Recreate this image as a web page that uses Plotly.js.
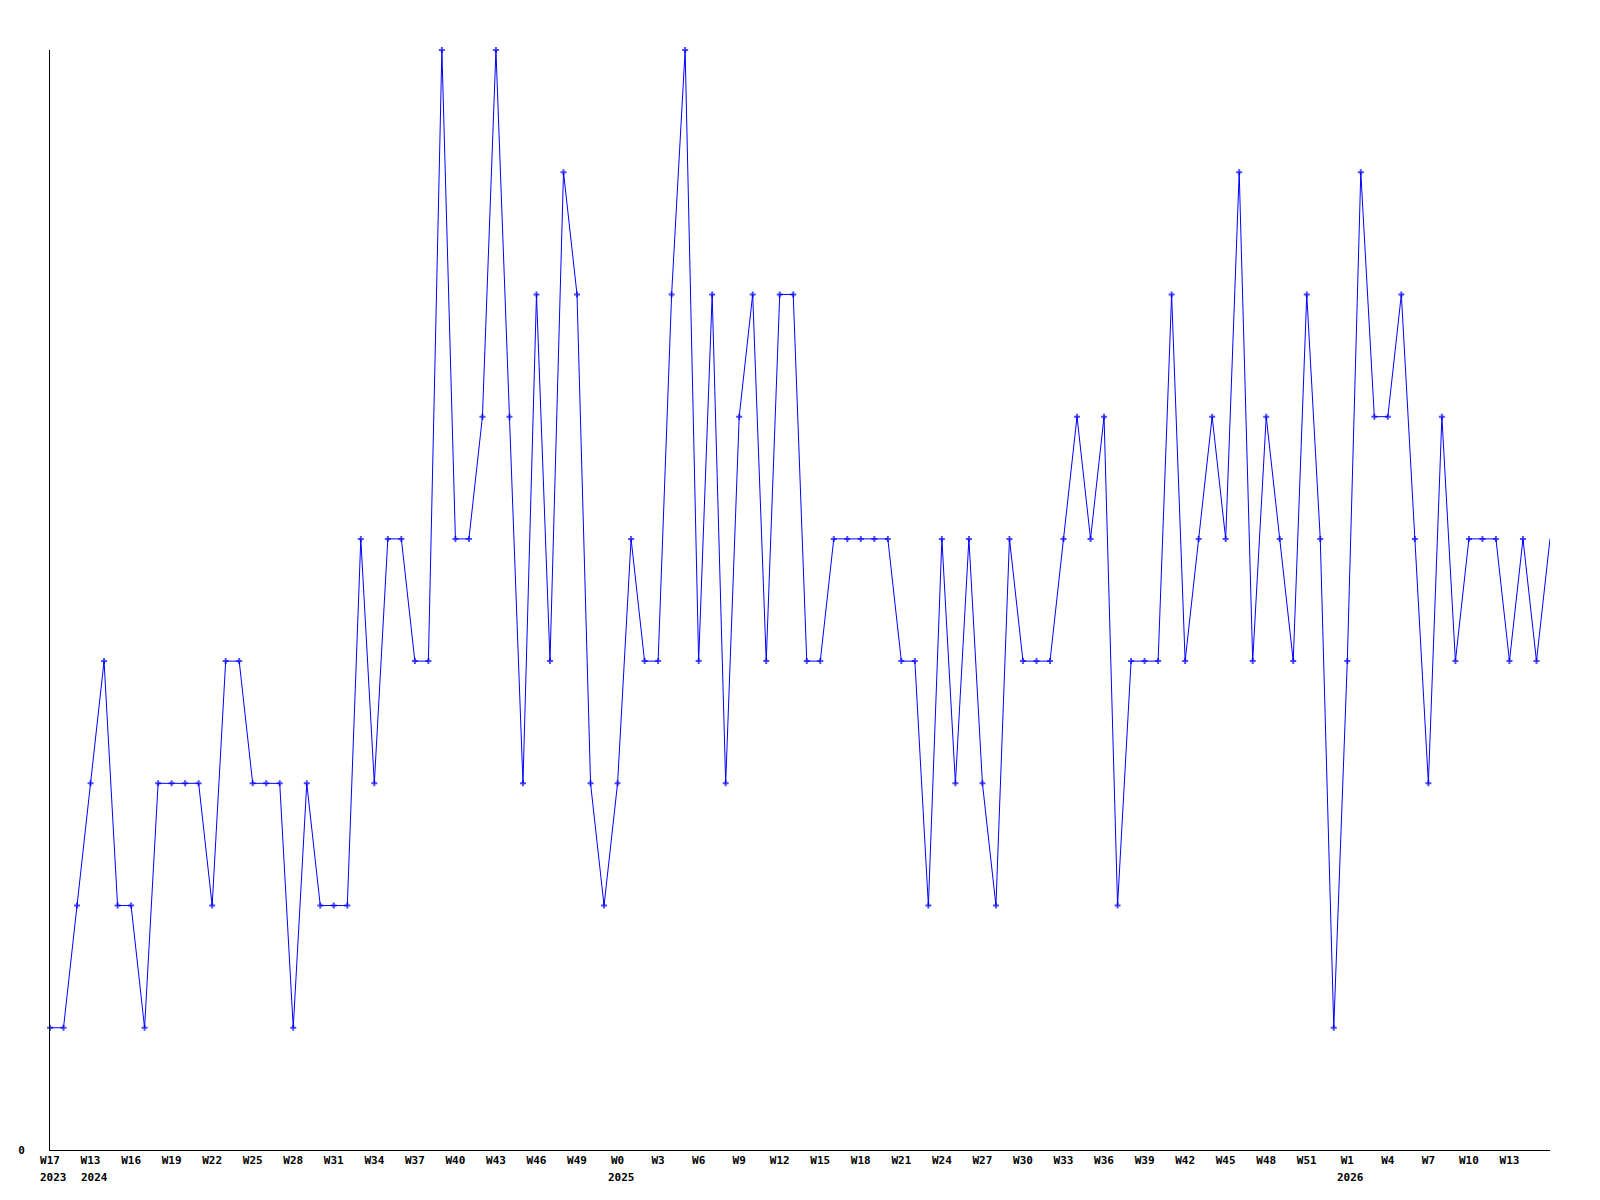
<!DOCTYPE html>
<html>
<head>
<meta charset="utf-8">
<script src="https://cdn.plot.ly/plotly-3.0.1.min.js"></script>
<style>
  html, body { margin: 0; padding: 0; background: #ffffff; }
  #chart { width: 1600px; height: 1200px; }
</style>
</head>
<body>
<div id="chart"></div>
<script>
// Weekly series values (one per week, 112 weeks)
const values = [
  1,1,2,3,4,2,2,1,3,3,3,3,2,4,4,3,3,3,1,3,2,2,2,5,3,5,5,4,4,9,
  5,5,6,9,6,3,7,4,8,7,3,2,3,5,4,4,7,9,4,7,3,6,7,4,7,7,4,4,5,5,
  5,5,5,4,4,2,5,3,5,3,2,5,4,4,4,5,6,5,6,2,4,4,4,7,4,5,6,5,8,4,
  6,5,4,7,5,1,4,8,6,6,7,5,3,6,4,5,5,5,4,5,4,5
];

// Week tick labels (every third week)
const tickIdx = [0,3,6,9,12,15,18,21,24,27,30,33,36,39,42,45,48,51,54,57,60,63,66,69,72,75,78,81,84,87,90,93,96,99,102,105,108];
const weekLabels = ["W17","W13","W16","W19","W22","W25","W28","W31","W34","W37","W40","W43","W46","W49",
  "W0","W3","W6","W9","W12","W15","W18","W21","W24","W27","W30","W33","W36","W39","W42","W45","W48","W51",
  "W1","W4","W7","W10","W13"];

// Year labels under the week labels
const yearIdx = [0, 3, 42, 96];
const yearLabels = ["2023", "2024", "2025", "2026"];

const xs = values.map((v, i) => i);
const markerSizes = values.map((v, i) => (i === values.length - 1 ? 0 : 5));

const font = { family: "DejaVu Sans Mono, monospace", size: 11, color: "#000000", weight: "bold" };

const trace = {
  x: xs,
  y: values,
  type: "scatter",
  mode: "lines+markers",
  line: { color: "#0000ff", width: 1 },
  marker: { symbol: "cross", size: markerSizes, color: "#0000ff", line: { width: 0 } },
  cliponaxis: false,
  hoverinfo: "x+y"
};

const annotations = yearIdx.map((xi, k) => ({
  x: xi, y: 0, xref: "x", yref: "paper",
  text: yearLabels[k], showarrow: false,
  xanchor: "left", yanchor: "top", xshift: -12, yshift: -19,
  font: font
}));

const layout = {
  width: 1600, height: 1200,
  margin: { l: 50, r: 50, t: 50, b: 50 },
  paper_bgcolor: "#ffffff", plot_bgcolor: "#ffffff",
  showlegend: false,
  xaxis: {
    range: [0, values.length - 1],
    tickmode: "array", tickvals: tickIdx, ticktext: weekLabels,
    ticks: "", showgrid: false, zeroline: false,
    showline: true, linecolor: "#000000", linewidth: 1,
    tickfont: font, tickangle: 0
  },
  yaxis: {
    range: [0, 9],
    tickmode: "array", tickvals: [0], ticktext: ["0"],
    ticks: "", showgrid: false, zeroline: false,
    showline: true, linecolor: "#000000", linewidth: 1,
    tickfont: font, ticklabelstandoff: 22
  },
  annotations: annotations
};

Plotly.newPlot("chart", [trace], layout, { staticPlot: true, displayModeBar: false });
</script>
</body>
</html>
